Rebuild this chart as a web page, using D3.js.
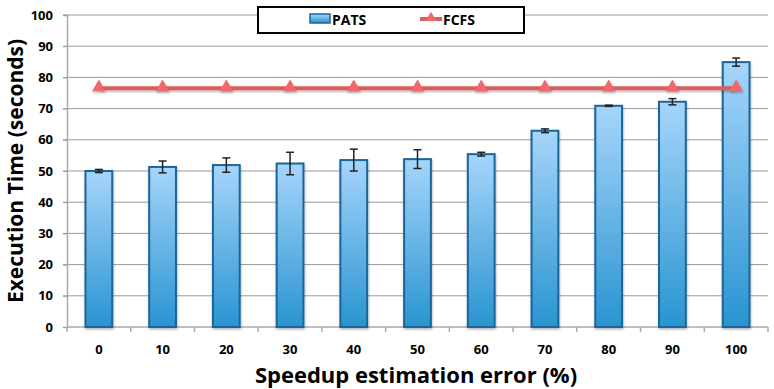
<!DOCTYPE html>
<html>
<head>
<meta charset="utf-8">
<script src="https://cdn.jsdelivr.net/npm/d3@7"></script>
<style>
  body { margin: 0; background: #fff; }
  text { font-family: "Open Sans", Lato, sans-serif; font-weight: bold; fill: #000; }
</style>
</head>
<body>
<div id="chart"></div>
<script>
// speedup estimation error (%)
var categories = ["0", "10", "20", "30", "40", "50", "60", "70", "80", "90", "100"];
var patsValues = [50.0, 51.3, 51.9, 52.4, 53.5, 53.8, 55.4, 62.9, 70.9, 72.2, 84.9];
var patsErrors = [0.5, 1.9, 2.3, 3.6, 3.5, 3.0, 0.6, 0.6, 0.2, 1.0, 1.3];
var fcfsValues = [76.5, 76.5, 76.5, 76.5, 76.5, 76.5, 76.5, 76.5, 76.5, 76.5, 76.5];
var yTicks = [0, 10, 20, 30, 40, 50, 60, 70, 80, 90, 100];

var width = 774, height = 389;
var margin = {top: 15, right: 6, bottom: 62, left: 67};
var w = width - margin.left - margin.right,
    h = height - margin.top - margin.bottom;

var svg = d3.select("#chart").append("svg")
  .attr("width", width)
  .attr("height", height);

var defs = svg.append("defs");
var grad = defs.append("linearGradient")
  .attr("id", "barGrad")
  .attr("x1", 0).attr("y1", 0).attr("x2", 0).attr("y2", 1);
grad.append("stop").attr("offset", "0%").attr("stop-color", "#a6d5fb");
grad.append("stop").attr("offset", "100%").attr("stop-color", "#2994d1");

// shadow filter, in user space so the flat line keeps it too
var shadow = defs.append("filter").attr("id", "shadow")
  .attr("filterUnits", "userSpaceOnUse")
  .attr("x", -20).attr("y", -20).attr("width", width + 40).attr("height", height + 40);
shadow.append("feDropShadow")
  .attr("dx", 0.5).attr("dy", 1.5).attr("stdDeviation", 1)
  .attr("flood-color", "#000").attr("flood-opacity", 0.3);

var g = svg.append("g")
  .attr("transform", "translate(" + margin.left + "," + margin.top + ")");

var x = d3.scaleBand()
  .domain(categories)
  .range([0, w])
  .paddingInner(0.58)
  .paddingOuter(0.29);

var y = d3.scaleLinear()
  .domain([0, 100])
  .range([h, 0]);

// grid lines
g.append("g")
  .selectAll("line")
  .data(yTicks.filter(function(d) { return d > 0; }))
  .join("line")
  .attr("x1", -4).attr("x2", w)
  .attr("y1", function(d) { return y(d); })
  .attr("y2", function(d) { return y(d); })
  .attr("stroke", "#999")
  .attr("stroke-width", 1);

// y axis
var yAxis = g.append("g")
  .call(d3.axisLeft(y).tickValues(yTicks).tickSize(4).tickPadding(10));
yAxis.select(".domain").attr("stroke", "#aaa").attr("stroke-width", 1.5);
yAxis.selectAll(".tick line").attr("stroke", "#999");
yAxis.selectAll(".tick text").style("font-size", "13px");

// x axis ticks at category boundaries
var xb = g.append("g").attr("transform", "translate(0," + h + ")");
xb.append("line")
  .attr("x1", 0).attr("x2", w)
  .attr("stroke", "#aaa").attr("stroke-width", 1.5);
xb.selectAll("line.tk")
  .data(d3.range(categories.length + 1))
  .join("line")
  .attr("class", "tk")
  .attr("x1", function(i) { return i * w / categories.length; })
  .attr("x2", function(i) { return i * w / categories.length; })
  .attr("y1", 0).attr("y2", 5)
  .attr("stroke", "#aaa").attr("stroke-width", 1.5);
xb.selectAll("text")
  .data(categories)
  .join("text")
  .attr("x", function(d) { return x(d) + x.bandwidth() / 2; })
  .attr("y", 27)
  .attr("text-anchor", "middle")
  .style("font-size", "13px")
  .text(function(d) { return d; });

// bars
g.append("g")
  .selectAll("rect")
  .data(patsValues)
  .join("rect")
  .attr("x", function(d, i) { return x(categories[i]); })
  .attr("y", function(d) { return y(d); })
  .attr("width", x.bandwidth())
  .attr("height", function(d) { return h - y(d); })
  .attr("fill", "url(#barGrad)")
  .attr("stroke", "#1d6598")
  .attr("stroke-width", 2)
  .attr("filter", "url(#shadow)");

// error bars
var eb = g.append("g").attr("stroke", "#222").attr("stroke-width", 1.5);
patsValues.forEach(function(v, i) {
  var cx = x(categories[i]) + x.bandwidth() / 2;
  var e = patsErrors[i];
  eb.append("line")
    .attr("x1", cx).attr("x2", cx)
    .attr("y1", y(v + e)).attr("y2", y(v - e));
  eb.append("line")
    .attr("x1", cx - 4).attr("x2", cx + 4)
    .attr("y1", y(v + e)).attr("y2", y(v + e));
  eb.append("line")
    .attr("x1", cx - 4).attr("x2", cx + 4)
    .attr("y1", y(v - e)).attr("y2", y(v - e));
});

// FCFS line
var line = d3.line()
  .x(function(d, i) { return x(categories[i]) + x.bandwidth() / 2; })
  .y(function(d) { return y(d); });

g.append("path")
  .datum(fcfsValues)
  .attr("d", line)
  .attr("fill", "none")
  .attr("stroke", "#d95f5f")
  .attr("stroke-width", 4)
  .attr("filter", "url(#shadow)");

var tri = d3.symbol().type(d3.symbolTriangle).size(80);
g.append("g")
  .selectAll("path")
  .data(fcfsValues)
  .join("path")
  .attr("transform", function(d, i) {
    return "translate(" + (x(categories[i]) + x.bandwidth() / 2) + "," + (y(d) - 1) + ")";
  })
  .attr("d", tri)
  .attr("fill", "#f0676a")
  .attr("filter", "url(#shadow)");

// legend
var leg = svg.append("g");
leg.append("rect")
  .attr("x", 258).attr("y", 7)
  .attr("width", 266).attr("height", 26)
  .attr("fill", "#fff")
  .attr("stroke", "#000")
  .attr("stroke-width", 2);
leg.append("rect")
  .attr("x", 310).attr("y", 14)
  .attr("width", 20).attr("height", 9)
  .attr("fill", "url(#barGrad)")
  .attr("stroke", "#1d6598")
  .attr("stroke-width", 1.5);
leg.append("text")
  .attr("x", 332).attr("y", 25)
  .style("font-size", "14px")
  .text("PATS");
leg.append("line")
  .attr("x1", 420).attr("x2", 442)
  .attr("y1", 19).attr("y2", 19)
  .attr("stroke", "#d95f5f").attr("stroke-width", 4);
leg.append("path")
  .attr("transform", "translate(431,18)")
  .attr("d", d3.symbol().type(d3.symbolTriangle).size(50))
  .attr("fill", "#f0676a");
leg.append("text")
  .attr("x", 443).attr("y", 25)
  .style("font-size", "14px")
  .text("FCFS");

// axis titles
svg.append("text")
  .attr("transform", "translate(23," + (margin.top + h / 2) + ") rotate(-90)")
  .attr("text-anchor", "middle")
  .style("font-size", "21px")
  .text("Execution Time (seconds)");

svg.append("text")
  .attr("x", 416)
  .attr("y", 383)
  .attr("text-anchor", "middle")
  .style("font-size", "22px")
  .text("Speedup estimation error (%)");
</script>
</body>
</html>
